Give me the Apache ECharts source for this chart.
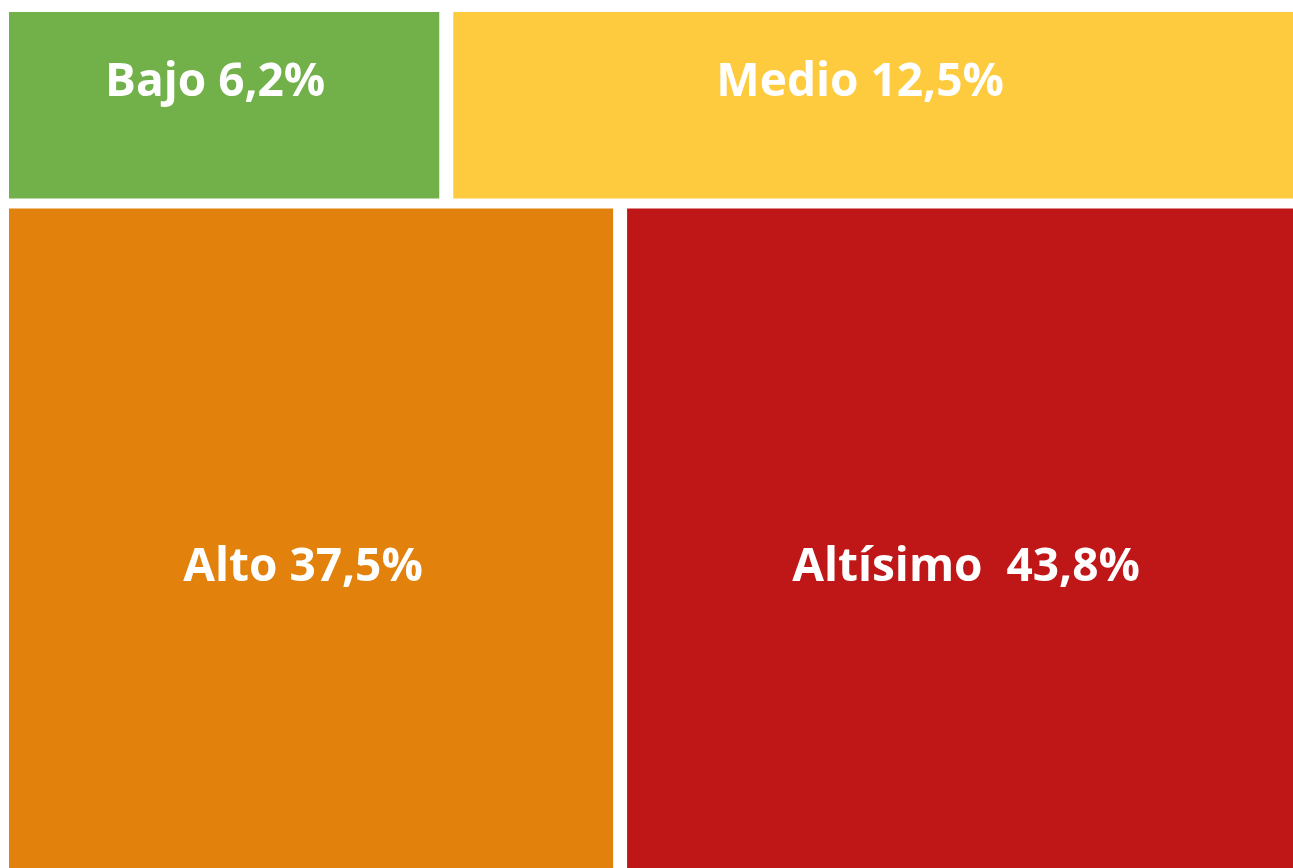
<!DOCTYPE html>
<html>
<head>
<meta charset="utf-8">
<script src="https://cdn.jsdelivr.net/npm/echarts@6/dist/echarts.min.js"></script>
<style>
  html, body { margin: 0; padding: 0; background: #fff; overflow: hidden; }
  #chart { width: 1350px; height: 1070px; }
</style>
</head>
<body>
<div id="chart"></div>
<script>
// categories and shares (%) as printed on the cells
var categories = ['Bajo', 'Medio', 'Alto', 'Altísimo '];
var shares = [6.2, 12.5, 37.5, 43.8];
// which row of the slice-and-dice layout each category sits in
var rowOf = [0, 0, 1, 1];

var colors = ['#72B04A', '#FECB3E', '#E2820D', '#BF1718'];
// label nudges from the cell centre, px
var labelShift = [[-9, -22], [-34, -22], [-8, -63], [-15, -63]];

// slice and dice: rows stacked by their total, cells split within a row
var total = shares.reduce(function (a, b) { return a + b; }, 0);
var rowTotals = [];
rowOf.forEach(function (r, i) { rowTotals[r] = (rowTotals[r] || 0) + shares[i]; });

var cells = [];
var yStart = 0;
rowTotals.forEach(function (rt, r) {
  var xStart = 0;
  var yEnd = yStart + rt / total * 100;
  shares.forEach(function (v, i) {
    if (rowOf[i] !== r) return;
    var xEnd = xStart + v / rt * 100;
    cells.push([xStart, yStart, xEnd, yEnd, i]);
    xStart = xEnd;
  });
  yStart = yEnd;
});

var padX = 7, padY = 5;

var myChart = echarts.init(document.getElementById('chart'));
myChart.setOption({
  animation: false,
  grid: { left: 2, top: 7, width: 1340, height: 1051 },
  xAxis: { type: 'value', min: 0, max: 100, show: false },
  yAxis: { type: 'value', min: 0, max: 100, inverse: true, show: false },
  series: [{
    type: 'custom',
    clip: false,
    encode: { x: [0, 2], y: [1, 3] },
    data: cells,
    renderItem: function (params, api) {
      var p0 = api.coord([api.value(0), api.value(1)]);
      var p1 = api.coord([api.value(2), api.value(3)]);
      var i = api.value(4);
      var x = Math.min(p0[0], p1[0]) + padX;
      var y = Math.min(p0[1], p1[1]) + padY;
      var w = Math.abs(p1[0] - p0[0]) - padX * 2;
      var h = Math.abs(p1[1] - p0[1]) - padY * 2;
      var label = categories[i] + ' ' + shares[i].toFixed(1).replace('.', ',') + '%';
      return {
        type: 'group',
        children: [
          {
            type: 'rect',
            shape: { x: x, y: y, width: w, height: h },
            style: { fill: colors[i] }
          },
          {
            type: 'text',
            x: x + w / 2 + labelShift[i][0],
            y: y + h / 2 + labelShift[i][1],
            style: {
              text: label,
              fill: '#ffffff',
              font: 'bold 46px "Open Sans"',
              align: 'center',
              verticalAlign: 'middle'
            }
          }
        ]
      };
    }
  }]
});
</script>
</body>
</html>
